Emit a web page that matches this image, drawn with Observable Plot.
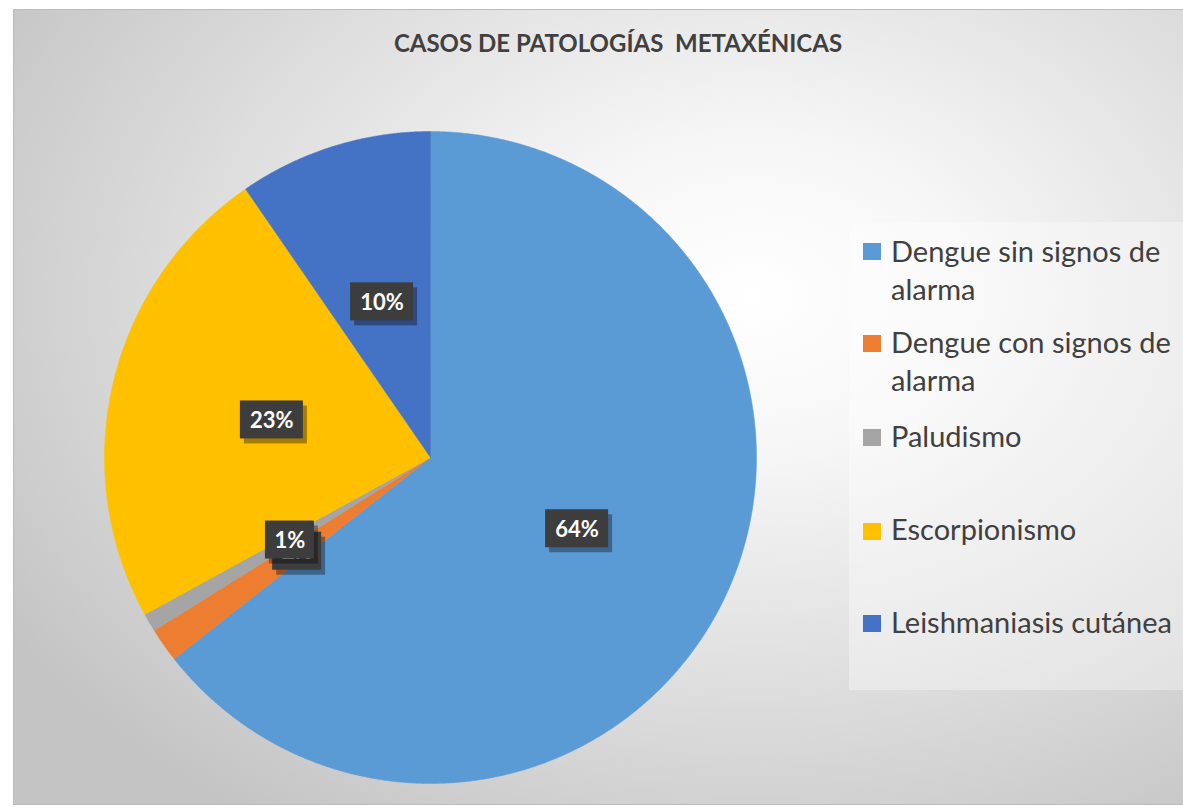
<!DOCTYPE html>
<html>
<head>
<meta charset="utf-8">
<script src="https://cdn.jsdelivr.net/npm/d3@7"></script>
<script src="https://cdn.jsdelivr.net/npm/@observablehq/plot@0.6"></script>
<style>
  html, body { margin: 0; padding: 0; background: #ffffff; width: 1183px; height: 807px; overflow: hidden; }
  #frame {
    position: absolute; left: 13px; top: 9px; width: 1176px; height: 796px;
    border: 1px solid #bcbcbc; box-sizing: border-box;
    background: radial-gradient(ellipse 75% 80% at 63% 36%, #ffffff 0%, #f6f6f6 25%, #dedede 62%, #c4c4c4 100%);
  }
  #title {
    position: absolute; left: 0; width: 1236px; top: 31px; text-align: center;
    font-family: Lato, "Open Sans", sans-serif; font-weight: bold; font-size: 24px;
    color: #404040; white-space: pre; line-height: 24px;
  }
  #chart { position: absolute; left: 0; top: 0; }
  #legend {
    position: absolute; left: 849px; top: 222px; width: 340px; height: 468px;
    background: rgba(255,255,255,0.35);
  }
  .item { position: absolute; left: 42px; font-family: Lato, "Open Sans", sans-serif; font-size: 29px;
    line-height: 38px; color: #404040; width: 300px; }
  .sw { position: absolute; left: 14px; width: 18px; height: 17px; }
</style>
</head>
<body>
<div id="frame"></div>
<div id="title"></div>
<div id="chart"></div>
<div id="legend"></div>
<script>
const title = "CASOS DE PATOLOGÍAS  METAXÉNICAS";
const categories = ["Dengue sin signos de alarma", "Dengue con signos de alarma", "Paludismo", "Escorpionismo", "Leishmaniasis cutánea"];
const legendLines = [["Dengue sin signos de", "alarma"], ["Dengue con signos de", "alarma"], ["Paludismo"], ["Escorpionismo"], ["Leishmaniasis cutánea"]];
const percentages = [64.4, 1.7, 0.9, 23.4, 9.6];
const labels = ["64%", "2%", "1%", "23%", "10%"];
const colors = ["#5B9BD5", "#ED7D31", "#A5A5A5", "#FFC000", "#4472C4"];

document.getElementById("title").textContent = title;

// pie geometry (unit circle, y up)
const arcs = d3.pie().sort(null)(percentages);
const slicePoints = [];
arcs.forEach((a, i) => {
  const cat = categories[i];
  slicePoints.push({cat, x: 0, y: 0});
  const n = Math.max(4, Math.ceil((a.endAngle - a.startAngle) / (Math.PI / 720)));
  for (let k = 0; k <= n; k++) {
    const t = a.startAngle + (a.endAngle - a.startAngle) * k / n;
    slicePoints.push({cat, x: Math.sin(t), y: Math.cos(t)});
  }
  slicePoints.push({cat, x: 0, y: 0});
});

const R = 326; // pixels per unit
const labelData = arcs.map((a, i) => {
  const m = (a.startAngle + a.endAngle) / 2;
  const x = 0.5 * Math.sin(m), y = 0.5 * Math.cos(m);
  const hw = (labels[i].length * 14 + 21) / 2 / R;
  const hh = 19 / R;
  return {cat: categories[i], text: labels[i], x, y, x1: x - hw, x2: x + hw, y1: y - hh, y2: y + hh};
});

const chart = Plot.plot({
  width: 1183,
  height: 807,
  marginLeft: 104,
  marginRight: 427,
  marginTop: 131,
  marginBottom: 24,
  style: {background: "transparent", overflow: "visible"},
  x: {domain: [-1, 1], axis: null},
  y: {domain: [-1, 1], axis: null},
  color: {domain: categories, range: colors},
  marks: [
    Plot.line(slicePoints, {x: "x", y: "y", z: "cat", fill: "cat", stroke: "cat", strokeWidth: 0.5, curve: "linear"}),
    ...labelData.flatMap(d => [
      Plot.rect([d], {x1: "x1", x2: "x2", y1: "y1", y2: "y2", fill: "#000", fillOpacity: 0.35, dx: 4, dy: 5}),
      Plot.rect([d], {x1: "x1", x2: "x2", y1: "y1", y2: "y2", fill: "#3d3d3d"}),
      Plot.text([d], {x: "x", y: "y", text: "text", fill: "#ffffff", fontSize: 22, fontWeight: "bold", fontFamily: "Lato, 'Open Sans', sans-serif", dy: 1})
    ])
  ]
});
document.getElementById("chart").appendChild(chart);

// legend
const legend = document.getElementById("legend");
const tops = [10, 101, 195, 288, 381]; // relative to legend box
const swTops = [21, 113, 207, 301, 393];
categories.forEach((c, i) => {
  const sw = document.createElement("div");
  sw.className = "sw";
  sw.style.background = colors[i];
  sw.style.top = swTops[i] + "px";
  legend.appendChild(sw);
  const it = document.createElement("div");
  it.className = "item";
  it.style.top = tops[i] + "px";
  it.innerHTML = legendLines[i].join("<br>");
  legend.appendChild(it);
});
</script>
</body>
</html>
